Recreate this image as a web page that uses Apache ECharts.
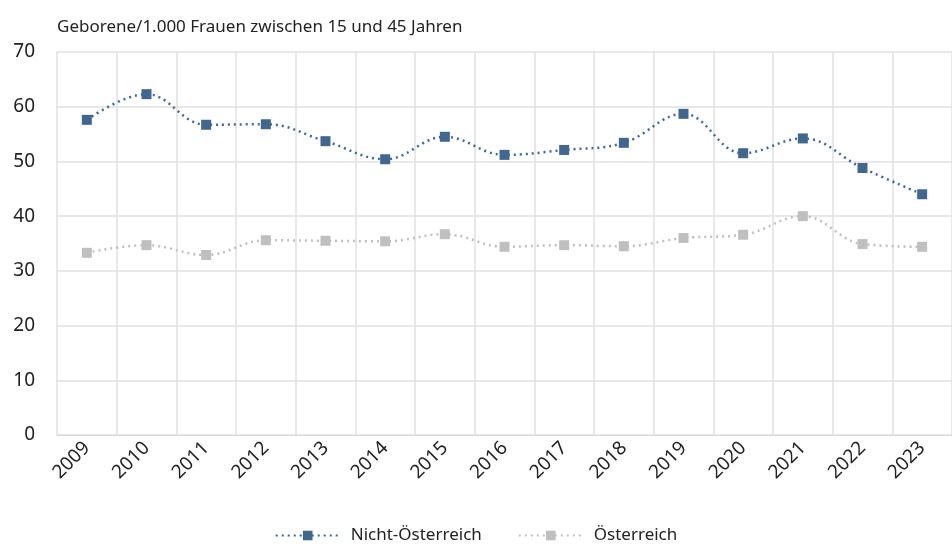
<!DOCTYPE html>
<html>
<head>
<meta charset="utf-8">
<script src="https://cdn.jsdelivr.net/npm/echarts@6/dist/echarts.min.js"></script>
<style>
  html, body { margin: 0; padding: 0; background: #fff; }
  #chart { width: 952px; height: 544px; }
</style>
</head>
<body>
<div id="chart"></div>
<script>
// Jahre
const years = ['2009', '2010', '2011', '2012', '2013', '2014', '2015', '2016', '2017', '2018', '2019', '2020', '2021', '2022', '2023']
// Geborene je 1.000 Frauen (15-45)
const nichtOesterreich = [57.6, 62.3, 56.7, 56.8, 53.7, 50.4, 54.5, 51.2, 52.1, 53.4, 58.7, 51.5, 54.2, 48.8, 44.0]
const oesterreich = [33.3, 34.7, 32.9, 35.6, 35.5, 35.4, 36.7, 34.4, 34.7, 34.5, 36.0, 36.6, 40.0, 34.9, 34.4]

const font = '"Noto Sans", "Open Sans", sans-serif'
const chart = echarts.init(document.getElementById('chart'))

const option = {
  animation: false,
  textStyle: { fontFamily: font },
  title: {
    text: 'Geborene/1.000 Frauen zwischen 15 und 45 Jahren',
    left: 52,
    top: 14,
    textStyle: { fontFamily: font, fontSize: 17, fontWeight: 'normal', color: '#222' }
  },
  grid: {
    top: 52,
    bottom: 109,
    left: 57,
    right: -10 // Plotfläche läuft rechts über den Bildrand hinaus
  },
  legend: {
    bottom: -5,
    left: 'center',
    itemWidth: 64,
    itemHeight: 12,
    itemGap: 36,
    textStyle: { fontFamily: font, fontSize: 17, color: '#222', padding: [0, 0, 0, 6] },
    data: ['Nicht-Österreich', 'Österreich']
  },
  xAxis: {
    type: 'category',
    data: years,
    boundaryGap: true,
    axisLine: { lineStyle: { color: '#d9d9d9', width: 1 } },
    axisTick: { show: false },
    splitLine: { show: true, lineStyle: { color: '#e0e0e0', width: 1.5 } },
    axisLabel: {
      rotate: 45,
      margin: 10,
      fontSize: 19,
      color: '#222',
      fontFamily: font
    }
  },
  yAxis: {
    type: 'value',
    min: 0,
    max: 70,
    interval: 10,
    axisLine: { show: false },
    axisTick: { show: false },
    splitLine: { lineStyle: { color: '#e0e0e0', width: 1.5 } },
    axisLabel: { fontSize: 19, color: '#222', margin: 22, fontFamily: font }
  },
  series: [
    {
      name: 'Nicht-Österreich',
      type: 'line',
      data: nichtOesterreich,
      smooth: 0.4,
      symbol: 'rect',
      symbolSize: 10,
      itemStyle: { color: '#41678f' },
      lineStyle: { color: '#41678f', width: 2.5, type: [2, 4] }
    },
    {
      name: 'Österreich',
      type: 'line',
      data: oesterreich,
      smooth: 0.4,
      symbol: 'rect',
      symbolSize: 10,
      itemStyle: { color: '#bfbfbf' },
      lineStyle: { color: '#bfbfbf', width: 2.5, type: [2, 4] }
    }
  ]
}

chart.setOption(option)
</script>
</body>
</html>
